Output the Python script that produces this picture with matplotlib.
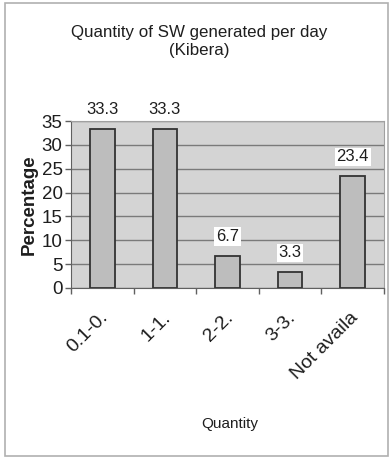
import matplotlib
matplotlib.use("Agg")
import matplotlib.pyplot as plt
from matplotlib.patches import Rectangle

plt.rcParams['font.family'] = ['Liberation Sans Narrow', 'Liberation Sans', 'DejaVu Sans']

categories = ["0.1-0.", "1-1.", "2-2.", "3-3.", "Not availa"]
percent = [33.3, 33.3, 6.7, 3.3, 23.4]
yticks = [0, 5, 10, 15, 20, 25, 30, 35]

fig = plt.figure(figsize=(3.92, 4.59), dpi=100)
fig.patch.set_facecolor("white")

# outer chart frame
fig.patches.append(Rectangle((5 / 392, 3 / 459), 383 / 392, 453 / 459,
                             transform=fig.transFigure, fill=False,
                             edgecolor="#b0b0b0", lw=1.2))

ax = fig.add_axes([71 / 392, 1 - 288 / 459, 313 / 392, 167 / 459])
ax.set_facecolor("#d4d4d4")

x = list(range(len(percent)))
ax.bar(x, percent, width=0.39, color="#bdbdbd", edgecolor="#333333",
       lw=1.3, zorder=3)

ax.set_xlim(-0.5, len(percent) - 0.5)
ax.set_ylim(0, 35)
ax.set_yticks(yticks)
ax.yaxis.grid(True, color="#7a7a7a", lw=1.0, zorder=1)
ax.set_axisbelow(True)

for s in ["top", "right"]:
    ax.spines[s].set_color("#a0a0a0")
for s in ["left", "bottom"]:
    ax.spines[s].set_color("#606060")

ax.tick_params(axis="y", length=4, width=1, color="#606060", labelsize=13.5,
               pad=2, labelcolor="#1e1e1e")
ax.set_xticks([])
ax.set_xticks([i - 0.5 for i in range(len(percent) + 1)], minor=True)
ax.tick_params(axis="x", which="minor", length=4, width=1, color="#606060")

for i, lab in enumerate(categories):
    ax.text(i + 0.05, -5.6, lab, rotation=45, rotation_mode="anchor",
            ha="right", va="center", fontsize=14, color="#1e1e1e",
            family=['Liberation Sans', 'DejaVu Sans'], clip_on=False)

for i, v in enumerate(percent):
    ax.text(i, v + 4.1, f"{v:.1f}", ha="center", va="center", fontsize=12,
            color="#1e1e1e", clip_on=False, zorder=5,
            bbox=dict(boxstyle="square,pad=0.1", fc="white", ec="none"))

ax.set_ylabel("Percentage", fontsize=13.5, fontweight="bold", color="#1e1e1e",
              family=['Liberation Sans', 'DejaVu Sans'])
ax.yaxis.set_label_coords(-33 / 313, 0.5)

fig.text(230 / 392, 1 - 424 / 459, "Quantity", ha="center", va="center",
         fontsize=11, color="#1e1e1e")
fig.text(199 / 392, 1 - 32 / 459, "Quantity of SW generated per day",
         ha="center", va="center", fontsize=12.2, color="#1e1e1e")
fig.text(199 / 392, 1 - 51 / 459, "(Kibera)", ha="center", va="center",
         fontsize=12.2, color="#1e1e1e")

fig.savefig("out.png", dpi=100, facecolor="white")
